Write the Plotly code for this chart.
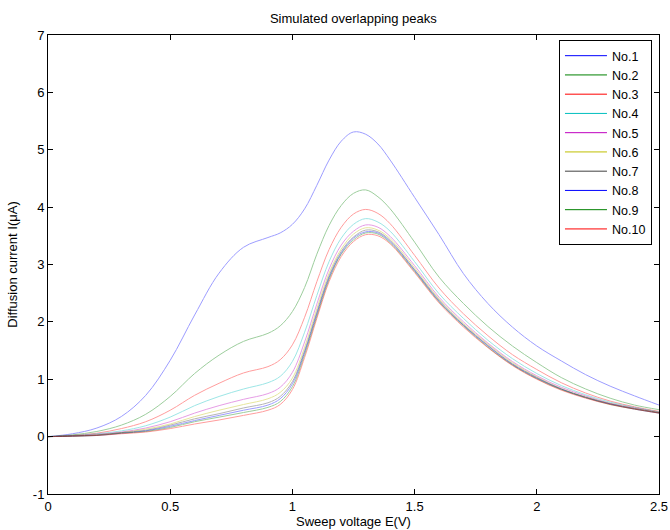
import plotly.graph_objects as go

# Sweep voltage grid (V)
E = [0, 0.1, 0.2, 0.3, 0.4, 0.5, 0.6, 0.7, 0.8, 0.9, 0.95, 1.0, 1.05, 1.1, 1.15,
     1.2, 1.25, 1.3, 1.35, 1.4, 1.5, 1.6, 1.7, 1.8, 1.9, 2.0, 2.1, 2.2, 2.3, 2.4, 2.5]

no1 = [0.00, 0.05, 0.15, 0.35, 0.72, 1.33, 2.12, 2.85, 3.30, 3.47, 3.55, 3.70, 3.97, 4.38, 4.82,
       5.15, 5.31, 5.27, 5.10, 4.82, 4.17, 3.52, 2.84, 2.32, 1.91, 1.58, 1.32, 1.08, 0.88, 0.71, 0.55]
no2 = [0.00, 0.03, 0.09, 0.20, 0.39, 0.70, 1.10, 1.42, 1.66, 1.80, 1.93, 2.18, 2.60, 3.18, 3.68,
       4.03, 4.24, 4.30, 4.18, 3.97, 3.39, 2.78, 2.32, 1.92, 1.58, 1.29, 1.03, 0.83, 0.67, 0.55, 0.47]
no3 = [0.00, 0.02, 0.06, 0.14, 0.26, 0.46, 0.72, 0.93, 1.11, 1.22, 1.34, 1.60, 2.08, 2.70, 3.26,
       3.65, 3.88, 3.96, 3.89, 3.71, 3.16, 2.59, 2.14, 1.76, 1.43, 1.17, 0.94, 0.76, 0.62, 0.52, 0.44]
no4 = [0.00, 0.02, 0.05, 0.10, 0.19, 0.34, 0.54, 0.70, 0.83, 0.94, 1.05, 1.31, 1.82, 2.46, 3.05,
       3.46, 3.70, 3.80, 3.74, 3.58, 3.05, 2.49, 2.06, 1.68, 1.36, 1.10, 0.89, 0.73, 0.60, 0.51, 0.43]
no5 = [0.00, 0.01, 0.04, 0.08, 0.15, 0.26, 0.41, 0.54, 0.65, 0.75, 0.86, 1.12, 1.65, 2.31, 2.92,
       3.34, 3.58, 3.69, 3.65, 3.49, 2.98, 2.43, 2.00, 1.63, 1.31, 1.06, 0.86, 0.71, 0.58, 0.50, 0.42]
no6 = [0.00, 0.01, 0.03, 0.07, 0.13, 0.22, 0.35, 0.46, 0.56, 0.66, 0.77, 1.02, 1.56, 2.23, 2.85,
       3.27, 3.53, 3.64, 3.60, 3.45, 2.94, 2.40, 1.97, 1.61, 1.29, 1.04, 0.84, 0.69, 0.58, 0.49, 0.42]
no7 = [0.00, 0.01, 0.03, 0.07, 0.11, 0.20, 0.31, 0.40, 0.50, 0.59, 0.70, 0.96, 1.50, 2.17, 2.80,
       3.23, 3.48, 3.60, 3.57, 3.42, 2.91, 2.38, 1.95, 1.59, 1.27, 1.03, 0.83, 0.69, 0.57, 0.49, 0.42]
no8 = [0.00, 0.01, 0.02, 0.06, 0.10, 0.18, 0.28, 0.37, 0.46, 0.55, 0.66, 0.92, 1.47, 2.14, 2.77,
       3.20, 3.46, 3.57, 3.55, 3.40, 2.90, 2.36, 1.94, 1.58, 1.26, 1.02, 0.83, 0.68, 0.57, 0.48, 0.41]
no9 = [0.00, 0.01, 0.02, 0.06, 0.09, 0.16, 0.26, 0.34, 0.42, 0.51, 0.61, 0.87, 1.43, 2.10, 2.74,
       3.18, 3.43, 3.55, 3.53, 3.38, 2.88, 2.35, 1.93, 1.56, 1.25, 1.01, 0.82, 0.68, 0.56, 0.48, 0.41]
no10 = [0.00, 0.01, 0.02, 0.05, 0.08, 0.14, 0.22, 0.29, 0.37, 0.46, 0.56, 0.82, 1.38, 2.06, 2.70,
        3.14, 3.40, 3.52, 3.50, 3.36, 2.86, 2.33, 1.91, 1.55, 1.24, 1.00, 0.81, 0.67, 0.56, 0.48, 0.41]

series = [no1, no2, no3, no4, no5, no6, no7, no8, no9, no10]
names = ["No.1", "No.2", "No.3", "No.4", "No.5", "No.6", "No.7", "No.8", "No.9", "No.10"]
colors = ["#0000ff", "#008000", "#ff0000", "#00bfbf", "#bf00bf", "#bfbf00", "#404040",
          "#0000ff", "#008000", "#ff0000"]

x_ticks = [0, 0.5, 1, 1.5, 2, 2.5]
x_ticktext = ["0", "0.5", "1", "1.5", "2", "2.5"]
y_ticks = [-1, 0, 1, 2, 3, 4, 5, 6, 7]
y_ticktext = ["-1", "0", "1", "2", "3", "4", "5", "6", "7"]

FONT = "Liberation Sans, Arial, sans-serif"

fig = go.Figure()
for ys, nm, c in zip(series, names, colors):
    fig.add_trace(go.Scatter(x=E, y=ys, mode="lines", name=nm, showlegend=False,
                             line=dict(color=c, width=1, shape="spline"), opacity=0.38,
                             hoverinfo="skip"))
# legend entries (full colour, like the reference)
for nm, c in zip(names, colors):
    fig.add_trace(go.Scatter(x=[None], y=[None], mode="lines", name=nm,
                             line=dict(color=c, width=1)))

axis_common = dict(showline=True, linecolor="black", linewidth=1, mirror="ticks",
                   ticks="inside", ticklen=5, tickcolor="black", tickwidth=1,
                   showgrid=False, zeroline=False, automargin=False,
                   tickfont=dict(family=FONT, size=13, color="black"))

fig.update_layout(
    width=670, height=530,
    margin=dict(l=48, r=11, t=35, b=36),
    paper_bgcolor="white", plot_bgcolor="white",
    font=dict(family=FONT, size=13, color="black"),
    title=dict(text="Simulated overlapping peaks", x=0.5274, xanchor="center",
               y=0.966, yanchor="middle", font=dict(family=FONT, size=13, color="black")),
    xaxis=dict(range=[0, 2.5], tickvals=x_ticks, ticktext=x_ticktext,
               title=dict(text="Sweep voltage E(V)", standoff=0,
                          font=dict(family=FONT, size=13)),
               **axis_common),
    yaxis=dict(range=[-1, 7], tickvals=y_ticks, ticktext=y_ticktext,
               title=dict(text="Diffusion current I(μA)", standoff=12,
                          font=dict(family=FONT, size=13)),
               **axis_common),
    legend=dict(x=0.9885, y=0.989, xanchor="right", yanchor="top",
                bordercolor="black", borderwidth=1, bgcolor="white",
                font=dict(family=FONT, size=12.5, color="black"),
                itemwidth=42, tracegroupgap=0),
    showlegend=True,
)

fig.write_html("out.html", config={"displayModeBar": False},
               post_script="document.body.style.margin='0';document.body.style.overflow='hidden';")
